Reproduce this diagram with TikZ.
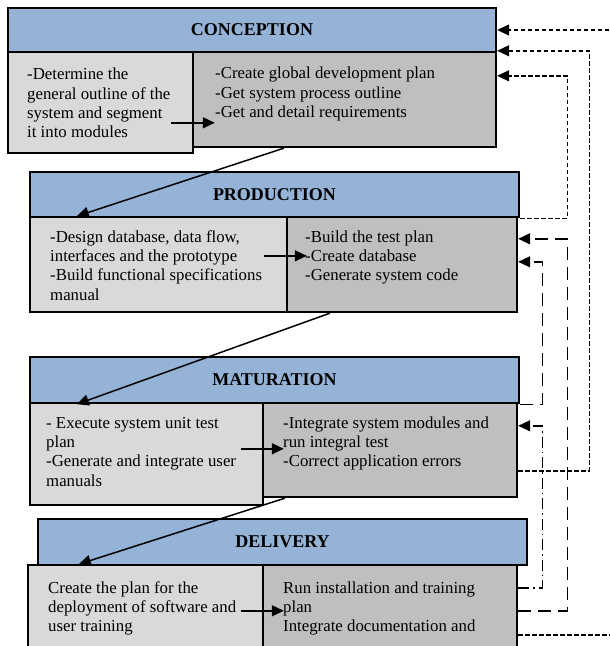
\documentclass[tikz,border=0pt]{standalone}
\usepackage{fontspec}
\setmainfont{Liberation Serif}
\usetikzlibrary{arrows.meta,calc}
\definecolor{hdrblue}{HTML}{95B3D7}
\definecolor{lgray}{HTML}{D9D9D9}
\definecolor{dgray}{HTML}{BFBFBF}
\begin{document}
\begin{tikzpicture}[x=1pt,y=-1pt,
  hdr/.style={draw=black,line width=2.4pt,fill=hdrblue,inner sep=0pt,
    font=\bfseries\fontsize{18}{20}\selectfont},
  lbox/.style={draw=black,line width=2.4pt,fill=lgray,inner sep=0pt},
  rbox/.style={draw=black,line width=2.4pt,fill=dgray,inner sep=0pt},
  txt/.style={anchor=north west,inner sep=0pt,align=left,
    font=\fontsize{16.8}{19.3}\selectfont},
  flow/.style={line width=1.5pt,-{Triangle[length=12pt,width=11pt]}},
  fb/.style={line width=1.4pt,-{Triangle[length=12pt,width=11pt]}},
  fdash/.style={fb,dash pattern=on 4.5pt off 2.5pt},
  ldash/.style={fb,dash pattern=on 13pt off 7pt},
  ddot/.style={fb,dash pattern=on 11pt off 4pt on 1.5pt off 4pt}]
\useasboundingbox (0,0) rectangle (610,646);

% CONCEPTION
\node[rbox,minimum width=303,minimum height=95] (cR) at (344.5,99.5) {};
\node[lbox,minimum width=185,minimum height=101] (cL) at (100.5,102.5) {};
\node[hdr,minimum width=488,minimum height=44] (cH) at (252,30) {CONCEPTION};
\node[txt] (tcL) at (27,66) {\strut-Determine the\\general outline of the\\system and segment\\it into modules};
\node[txt] (tcR) at (215,65) {\strut-Create global development plan\\-Get system process outline\\-Get and detail requirements};

% PRODUCTION
\node[lbox,minimum width=257,minimum height=95] (pL) at (158.5,264.5) {};
\node[rbox,minimum width=230,minimum height=95] (pR) at (402,264.5) {};
\node[hdr,minimum width=489,minimum height=45] (pH) at (274.5,194.5) {PRODUCTION};
\node[txt] (tpL) at (50,228.5) {\strut-Design database, data flow,\\interfaces and the prototype\\-Build functional specifications\\manual};
\node[txt] (tpR) at (305,228.5) {\strut-Build the test plan\\-Create database\\-Generate system code};

% MATURATION
\node[rbox,minimum width=254,minimum height=94] (mR) at (390,450) {};
\node[lbox,minimum width=233,minimum height=102] (mL) at (146.5,454) {};
\node[hdr,minimum width=489,minimum height=46] (mH) at (274.5,380) {MATURATION};
\node[txt] (tmL) at (46,414.5) {\strut- Execute system unit test\\plan\\-Generate and integrate user\\manuals};
\node[txt] (tmR) at (283,414.5) {\strut-Integrate system modules and\\run integral test\\-Correct application errors};

% DELIVERY
\node[lbox,minimum width=235,minimum height=95] (dL) at (145.5,612.5) {};
\node[rbox,minimum width=254,minimum height=95] (dR) at (390,612.5) {};
\node[hdr,minimum width=489,minimum height=46] (dH) at (282.5,542) {DELIVERY};
\node[txt] (tdL) at (48,579.5) {\strut Create the plan for the\\deployment of software and\\user training};
\node[txt] (tdR) at (283,579.5) {\strut Run installation and training\\plan\\Integrate documentation and};

% inner arrows
\draw[flow] ($(cL.north east)+(-23,72)$) -- ($(cR.north west)+(23,72)$);
\draw[flow] ($(pL.north east)+(-24,40)$) -- ($(pR.north west)+(21,40)$);
\draw[flow] ($(mL.north east)+(-23,47)$) -- ($(mR.north west)+(22,47)$);
\draw[flow] ($(dL.north east)+(-23,47)$) -- ($(dR.north west)+(22,47)$);

% diagonal arrows
\draw[flow] ($(cR.south west)+(92,0)$) -- ($(pH.south west)+(48,-2)$);
\draw[flow] ($(pR.south west)+(44,0)$) -- ($(mH.south west)+(48,0)$);
\draw[flow] ($(mR.south west)+(23,0)$) -- ($(dH.south west)+(42,-2)$);

% feedback connectors
\draw[fdash] ($(dR.north east)+(0,71)$) -- ++(100,0) |- (cH.east);
\draw[fdash] ($(mR.north east)+(0,69)$) -- ++(71,0) |- (cR.north east);
\draw[fdash] (pH.south east) -- ++(47,0) |- ($(cR.north east)+(0,25)$);
\draw[ldash] ($(dR.north east)+(0,47)$) -- ++(49,0) |- ($(pR.north east)+(0,23)$);
\draw[ldash] (mH.south east) -- ++(22,0) |- ($(pR.north east)+(0,46)$);
\draw[ddot] ($(dR.north east)+(0,24)$) -- ++(24,0) |- ($(mR.north east)+(0,24)$);
\end{tikzpicture}
\end{document}
